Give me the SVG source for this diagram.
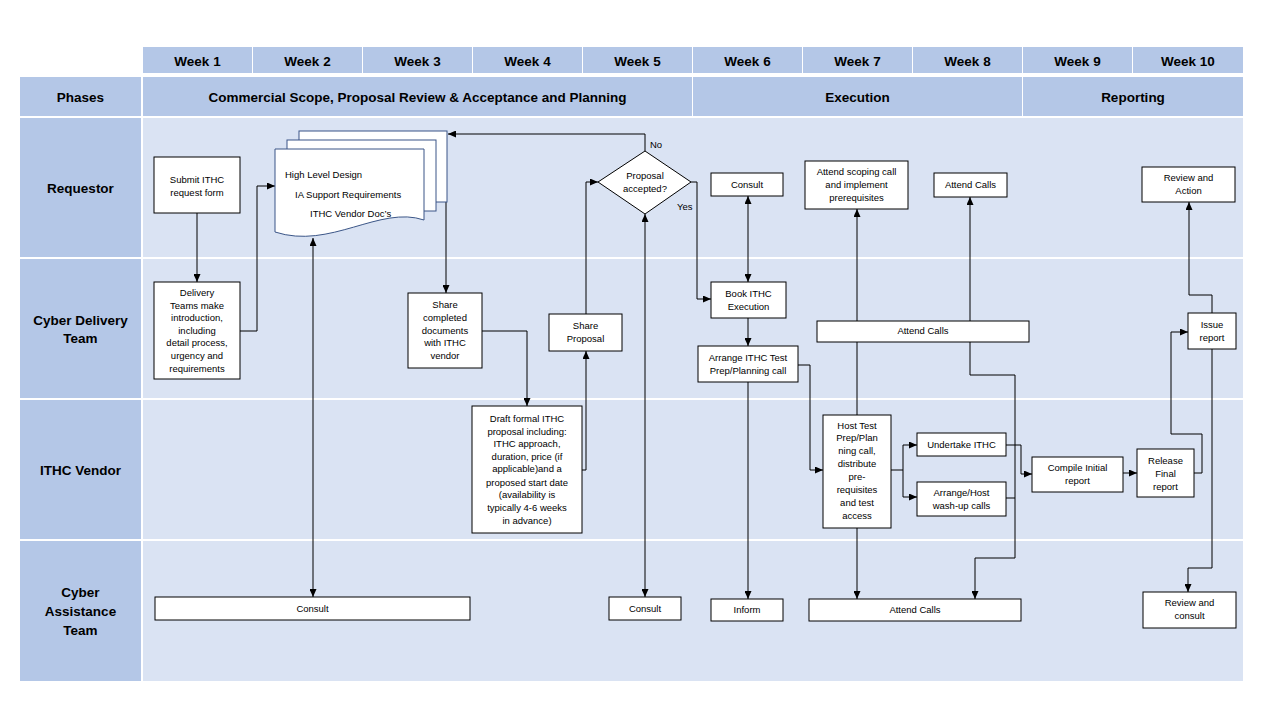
<svg xmlns="http://www.w3.org/2000/svg" width="1280" height="720" viewBox="0 0 1280 720">
<style>
.hd{fill:#b4c7e7}
.bd{fill:#dae3f3}
.ht{font-family:"Liberation Sans",Arial,sans-serif;font-weight:bold;font-size:13.5px;fill:#000;text-anchor:middle}
.bx{fill:#fff;stroke:#000;stroke-width:1}
.doc{fill:#fff;stroke:#3a5587;stroke-width:1}
.t{font-family:"Liberation Sans",Arial,sans-serif;font-size:9.5px;fill:#000;text-anchor:middle}
.tl{font-family:"Liberation Sans",Arial,sans-serif;font-size:9.5px;fill:#000}
.c{fill:none;stroke:#000;stroke-width:1}
.a{marker-end:url(#ah)}
.aa{marker-end:url(#ah);marker-start:url(#ah)}
</style>
<defs>
<marker id="ah" viewBox="0 0 8 7" refX="8" refY="3.5" markerWidth="8" markerHeight="7" markerUnits="userSpaceOnUse" orient="auto-start-reverse">
<path d="M0,0 L8,3.5 L0,7 z" fill="#000"/>
</marker>
</defs>
<rect width="1280" height="720" fill="#fff"/>
<g id="grid">
<rect class="hd" x="143" y="47" width="109" height="26"/>
<rect class="hd" x="253" y="47" width="109" height="26"/>
<rect class="hd" x="363" y="47" width="109" height="26"/>
<rect class="hd" x="473" y="47" width="109" height="26"/>
<rect class="hd" x="583" y="47" width="109" height="26"/>
<rect class="hd" x="693" y="47" width="109" height="26"/>
<rect class="hd" x="803" y="47" width="109" height="26"/>
<rect class="hd" x="913" y="47" width="109" height="26"/>
<rect class="hd" x="1023" y="47" width="109" height="26"/>
<rect class="hd" x="1133" y="47" width="110" height="26"/>
<text class="ht" x="197.5" y="66">Week 1</text>
<text class="ht" x="307.5" y="66">Week 2</text>
<text class="ht" x="417.5" y="66">Week 3</text>
<text class="ht" x="527.5" y="66">Week 4</text>
<text class="ht" x="637.5" y="66">Week 5</text>
<text class="ht" x="747.5" y="66">Week 6</text>
<text class="ht" x="857.5" y="66">Week 7</text>
<text class="ht" x="967.5" y="66">Week 8</text>
<text class="ht" x="1077.5" y="66">Week 9</text>
<text class="ht" x="1188" y="66">Week 10</text>
<rect class="hd" x="20" y="77" width="121" height="39"/>
<rect class="hd" x="143" y="77" width="549" height="39"/>
<rect class="hd" x="693" y="77" width="329" height="39"/>
<rect class="hd" x="1023" y="77" width="220" height="39"/>
<text class="ht" x="80.5" y="102">Phases</text>
<text class="ht" x="417.5" y="102">Commercial Scope, Proposal Review &amp; Acceptance and Planning</text>
<text class="ht" x="857.5" y="102">Execution</text>
<text class="ht" x="1133" y="102">Reporting</text>
<rect class="hd" x="20" y="118" width="121" height="139"/>
<rect class="hd" x="20" y="259" width="121" height="139"/>
<rect class="hd" x="20" y="400" width="121" height="139"/>
<rect class="hd" x="20" y="541" width="121" height="140"/>
<rect class="bd" x="143" y="118" width="1100" height="139"/>
<rect class="bd" x="143" y="259" width="1100" height="139"/>
<rect class="bd" x="143" y="400" width="1100" height="139"/>
<rect class="bd" x="143" y="541" width="1100" height="140"/>
<text class="ht" x="80.5" y="193">Requestor</text>
<text class="ht" x="80.5" y="325">Cyber Delivery</text>
<text class="ht" x="80.5" y="343">Team</text>
<text class="ht" x="80.5" y="475">ITHC Vendor</text>
<text class="ht" x="80.5" y="597">Cyber</text>
<text class="ht" x="80.5" y="616">Assistance</text>
<text class="ht" x="80.5" y="635">Team</text>
</g>
<g id="connectors">
<path class="c a" d="M197,213 V282"/>
<path class="c a" d="M240,331 H257 V186 H275"/>
<path class="c aa" d="M313,238 V597"/>
<path class="c a" d="M446,202 V293"/>
<path class="c a" d="M482,331 H527 V406"/>
<path class="c a" d="M582,470 H586 V351"/>
<path class="c a" d="M586,314 V182 H598"/>
<path class="c a" d="M645,151 V134 H448"/>
<path class="c a" d="M691,182 H697 V299 H711"/>
<path class="c aa" d="M645,214 V597"/>
<path class="c aa" d="M748,196 V282"/>
<path class="c a" d="M748,318 V346"/>
<path class="c a" d="M748,382 V599"/>
<path class="c a" d="M798,365 H810 V470 H823"/>
<path class="c a" d="M857,415 V209"/>
<path class="c a" d="M857,528 V599"/>
<path class="c a" d="M891,470 H903 V445 H917"/>
<path class="c a" d="M903,470 V497 H917"/>
<path class="c a" d="M970,321 V197"/>
<path class="c a" d="M970,342 V375 H1015 V558 H975 V599"/>
<path class="c" d="M1006,498 H1015"/>
<path class="c a" d="M1006,445 H1021 V474 H1032"/>
<path class="c a" d="M1123,473 H1137"/>
<path class="c a" d="M1194,473 H1202 V434 H1171 V332 H1188"/>
<path class="c a" d="M1212,313 V295 H1189 V202"/>
<path class="c a" d="M1212,349 V568 H1188 V592"/>
<text class="tl" x="650" y="148">No</text>
<text class="tl" x="677" y="210">Yes</text>
</g>
<g id="submit">
<rect class="bx" x="154" y="157" width="86" height="56"/>
<text class="t" x="197" y="183">Submit ITHC</text>
<text class="t" x="197" y="196">request form</text>
</g>
<g id="documents">
<rect class="doc" x="299" y="131" width="148" height="71"/>
<rect class="doc" x="287" y="140" width="149" height="71"/>
<path class="doc" d="M275,149 H424 V220 C380,205 330,250 275,232 Z"/>
<text class="tl" x="285" y="178">High Level Design</text>
<text class="tl" x="295" y="198">IA Support Requirements</text>
<text class="tl" x="310" y="217">ITHC Vendor Doc’s</text>
</g>
<g id="decision">
<path class="bx" d="M645,151 L691,182 L645,214 L598,182 Z"/>
<text class="t" x="645" y="179">Proposal</text>
<text class="t" x="645" y="192">accepted?</text>
</g>
<g id="req-consult">
<rect class="bx" x="711" y="173" width="72" height="23"/>
<text class="t" x="747" y="188">Consult</text>
</g>
<g id="scoping">
<rect class="bx" x="805" y="161" width="103" height="48"/>
<text class="t" x="856.5" y="175">Attend scoping call</text>
<text class="t" x="856.5" y="188">and implement</text>
<text class="t" x="856.5" y="201">prerequisites</text>
</g>
<g id="req-attend">
<rect class="bx" x="934" y="173" width="73" height="24"/>
<text class="t" x="970.5" y="188">Attend Calls</text>
</g>
<g id="review-action">
<rect class="bx" x="1142" y="167" width="93" height="35"/>
<text class="t" x="1188.5" y="181">Review and</text>
<text class="t" x="1188.5" y="194">Action</text>
</g>
<g id="delivery">
<rect class="bx" x="154" y="282" width="86" height="97"/>
<text class="t" x="197" y="296">Delivery</text>
<text class="t" x="197" y="309">Teams make</text>
<text class="t" x="197" y="321">introduction,</text>
<text class="t" x="197" y="334">including</text>
<text class="t" x="197" y="346">detail process,</text>
<text class="t" x="197" y="359">urgency and</text>
<text class="t" x="197" y="372">requirements</text>
</g>
<g id="share-docs">
<rect class="bx" x="408" y="293" width="74" height="75"/>
<text class="t" x="445" y="308">Share</text>
<text class="t" x="445" y="321">completed</text>
<text class="t" x="445" y="334">documents</text>
<text class="t" x="445" y="346">with ITHC</text>
<text class="t" x="445" y="359">vendor</text>
</g>
<g id="share-proposal">
<rect class="bx" x="549" y="314" width="73" height="37"/>
<text class="t" x="585.5" y="329">Share</text>
<text class="t" x="585.5" y="342">Proposal</text>
</g>
<g id="book">
<rect class="bx" x="711" y="282" width="75" height="36"/>
<text class="t" x="748.5" y="297">Book ITHC</text>
<text class="t" x="748.5" y="310">Execution</text>
</g>
<g id="arrange-prep">
<rect class="bx" x="698" y="346" width="100" height="36"/>
<text class="t" x="748" y="361">Arrange ITHC Test</text>
<text class="t" x="748" y="374">Prep/Planning call</text>
</g>
<g id="cdt-attend">
<rect class="bx" x="817" y="321" width="212" height="21"/>
<text class="t" x="923" y="334">Attend Calls</text>
</g>
<g id="issue">
<rect class="bx" x="1188" y="313" width="48" height="36"/>
<text class="t" x="1212" y="328">Issue</text>
<text class="t" x="1212" y="341">report</text>
</g>
<g id="draft">
<rect class="bx" x="472" y="406" width="110" height="127"/>
<text class="t" x="527" y="422">Draft formal ITHC</text>
<text class="t" x="527" y="435">proposal including:</text>
<text class="t" x="527" y="447">ITHC approach,</text>
<text class="t" x="527" y="460">duration, price (if</text>
<text class="t" x="527" y="472">applicable)and a</text>
<text class="t" x="527" y="486">proposed start date</text>
<text class="t" x="527" y="498">(availability is</text>
<text class="t" x="527" y="511">typically 4-6 weeks</text>
<text class="t" x="527" y="524">in advance)</text>
</g>
<g id="host">
<rect class="bx" x="823" y="415" width="68" height="113"/>
<text class="t" x="857" y="429">Host Test</text>
<text class="t" x="857" y="441">Prep/Plan</text>
<text class="t" x="857" y="454">ning call,</text>
<text class="t" x="857" y="467">distribute</text>
<text class="t" x="857" y="480">pre-</text>
<text class="t" x="857" y="493">requisites</text>
<text class="t" x="857" y="506">and test</text>
<text class="t" x="857" y="519">access</text>
</g>
<g id="undertake">
<rect class="bx" x="917" y="433" width="89" height="23"/>
<text class="t" x="961.5" y="448">Undertake ITHC</text>
</g>
<g id="washup">
<rect class="bx" x="917" y="482" width="89" height="34"/>
<text class="t" x="961.5" y="496">Arrange/Host</text>
<text class="t" x="961.5" y="509">wash-up calls</text>
</g>
<g id="compile">
<rect class="bx" x="1032" y="457" width="91" height="35"/>
<text class="t" x="1077.5" y="471">Compile Initial</text>
<text class="t" x="1077.5" y="484">report</text>
</g>
<g id="release">
<rect class="bx" x="1137" y="449" width="57" height="48"/>
<text class="t" x="1165.5" y="464">Release</text>
<text class="t" x="1165.5" y="477">Final</text>
<text class="t" x="1165.5" y="490">report</text>
</g>
<g id="cat-consult1">
<rect class="bx" x="155" y="597" width="315" height="23"/>
<text class="t" x="312.5" y="612">Consult</text>
</g>
<g id="cat-consult2">
<rect class="bx" x="609" y="597" width="72" height="23"/>
<text class="t" x="645" y="612">Consult</text>
</g>
<g id="inform">
<rect class="bx" x="711" y="599" width="72" height="22"/>
<text class="t" x="747" y="613">Inform</text>
</g>
<g id="cat-attend">
<rect class="bx" x="809" y="599" width="212" height="22"/>
<text class="t" x="915" y="613">Attend Calls</text>
</g>
<g id="review-consult">
<rect class="bx" x="1143" y="592" width="93" height="36"/>
<text class="t" x="1189.5" y="606">Review and</text>
<text class="t" x="1189.5" y="619">consult</text>
</g>
</svg>
